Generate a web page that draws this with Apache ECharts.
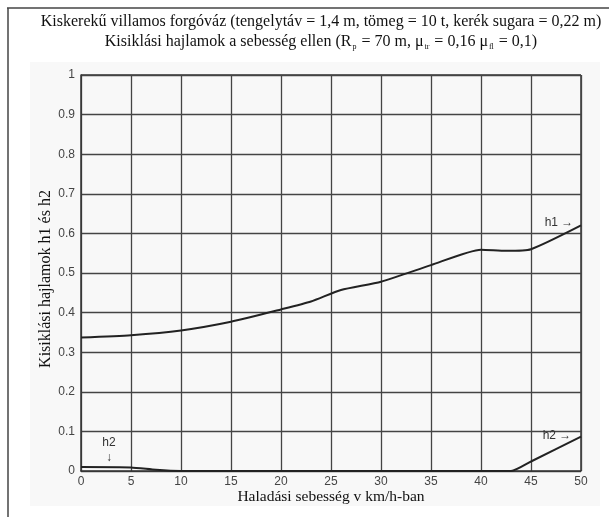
<!DOCTYPE html>
<html>
<head>
<meta charset="utf-8">
<script src="https://cdn.jsdelivr.net/npm/echarts@6/dist/echarts.min.js"></script>
<style>
  html, body { margin: 0; padding: 0; background: #fff; }
  #chart { width: 609px; height: 517px; }
</style>
</head>
<body>
<div id="chart"></div>
<script>
// sebesség (km/h) és kisiklási hajlamok
var h1Data = [[0, 0.337], [5, 0.343], [10, 0.355], [15, 0.377], [20, 0.408], [23, 0.428],
              [26, 0.457], [30, 0.478], [35, 0.52], [40, 0.559], [42.5, 0.556], [45, 0.56], [50, 0.62]];
var h2Data = [[0, 0.01], [5, 0.009], [7.5, 0.003], [10, 0], [20, 0], [30, 0], [40, 0],
              [43, 0], [45, 0.024], [50, 0.087]];
var xTicks = [0, 5, 10, 15, 20, 25, 30, 35, 40, 45, 50];
var yTicks = [0, 0.1, 0.2, 0.3, 0.4, 0.5, 0.6, 0.7, 0.8, 0.9, 1];

var myChart = echarts.init(document.getElementById('chart'));

var serif = '"Liberation Serif", "DejaVu Serif", serif';
var sans = '"Liberation Sans", Arial, sans-serif';
var gridColor = '#444';

var option = {
    backgroundColor: '#fff',
    animation: false,
    title: {
        left: 316,
        top: 7,
        textAlign: 'center',
        text: 'Kiskerekű villamos forgóváz (tengelytáv = 1,4 m, tömeg = 10 t, kerék sugara = 0,22 m)\n' +
              '{t|Kisiklási hajlamok a sebesség ellen (R}{s|p}{t| = 70 m, μ}{s|tr}{t| = 0,16 μ}{s|fl}{t| = 0,1)}',
        textStyle: {
            fontFamily: serif,
            fontSize: 16,
            fontWeight: 'normal',
            color: '#111',
            lineHeight: 20,
            rich: {
                t: { fontFamily: serif, fontSize: 16, color: '#111', lineHeight: 20 },
                s: { fontFamily: serif, fontSize: 8, color: '#111', padding: [10, 1, 0, 1], lineHeight: 20 }
            }
        }
    },
    grid: { left: 81, right: 28, top: 75, bottom: 46 },
    xAxis: {
        type: 'value',
        min: 0, max: 50, interval: 5,
        name: 'Haladási sebesség v km/h-ban',
        nameLocation: 'middle',
        nameGap: 18,
        nameMoveOverlap: false,
        nameTextStyle: { fontFamily: serif, fontSize: 15.5, color: '#111' },
        axisLine: { show: true, lineStyle: { color: '#333', width: 1.5 } },
        axisTick: { show: false },
        axisLabel: {
            fontFamily: sans, fontSize: 12, color: '#444', margin: 5,
            formatter: function (v) { return xTicks.indexOf(v) >= 0 ? String(v) : ''; }
        },
        splitLine: { show: true, lineStyle: { color: gridColor, width: 1.3 } }
    },
    yAxis: {
        type: 'value',
        min: 0, max: 1, interval: 0.1,
        name: 'Kisiklási hajlamok h1 és h2',
        nameLocation: 'middle',
        nameGap: 27,
        nameMoveOverlap: false,
        nameTextStyle: { fontFamily: serif, fontSize: 16, color: '#111', padding: [0, 12, 0, 0] },
        axisLine: { show: true, lineStyle: { color: '#333', width: 1.5 } },
        axisTick: { show: false },
        axisLabel: {
            fontFamily: sans, fontSize: 12, color: '#444', margin: 6,
            formatter: function (v) {
                var r = Math.round(v * 10) / 10;
                return yTicks.indexOf(r) >= 0 ? String(r) : '';
            }
        },
        splitLine: { show: true, lineStyle: { color: gridColor, width: 1.3 } }
    },
    graphic: [
        { type: 'rect', z: -10, shape: { x: 30, y: 62, width: 570, height: 444 },
          style: { fill: '#f8f8f8' } },
        { type: 'line', shape: { x1: 7, y1: 8, x2: 609, y2: 8 }, style: { stroke: '#444', lineWidth: 1.5 } },
        { type: 'line', shape: { x1: 8, y1: 8, x2: 8, y2: 517 }, style: { stroke: '#444', lineWidth: 1.5 } },
        { type: 'line', shape: { x1: 581, y1: 75, x2: 581, y2: 471 }, style: { stroke: '#333', lineWidth: 1.5 } },
        { type: 'line', shape: { x1: 81, y1: 75, x2: 581, y2: 75 }, style: { stroke: '#333', lineWidth: 1.5 } }
    ],
    series: [
        {
            name: 'h1',
            type: 'line',
            data: h1Data,
            smooth: 0.2,
            showSymbol: false,
            lineStyle: { color: '#222', width: 2 },
            markPoint: {
                symbol: 'circle', symbolSize: 0,
                label: { show: true, fontFamily: sans, fontSize: 12, color: '#333', formatter: '{b}' },
                data: [{ name: 'h1 →', coord: [47.8, 0.627] }]
            }
        },
        {
            name: 'h2',
            type: 'line',
            data: h2Data,
            smooth: 0.2,
            showSymbol: false,
            lineStyle: { color: '#222', width: 2 },
            markPoint: {
                symbol: 'circle', symbolSize: 0,
                label: { show: true, fontFamily: sans, fontSize: 12, color: '#333', formatter: '{b}' },
                data: [
                    { name: 'h2 →', coord: [47.6, 0.09] },
                    { name: 'h2', coord: [2.8, 0.072] },
                    { name: '↓', coord: [2.8, 0.034] }
                ]
            }
        }
    ]
};

myChart.setOption(option);
</script>
</body>
</html>
